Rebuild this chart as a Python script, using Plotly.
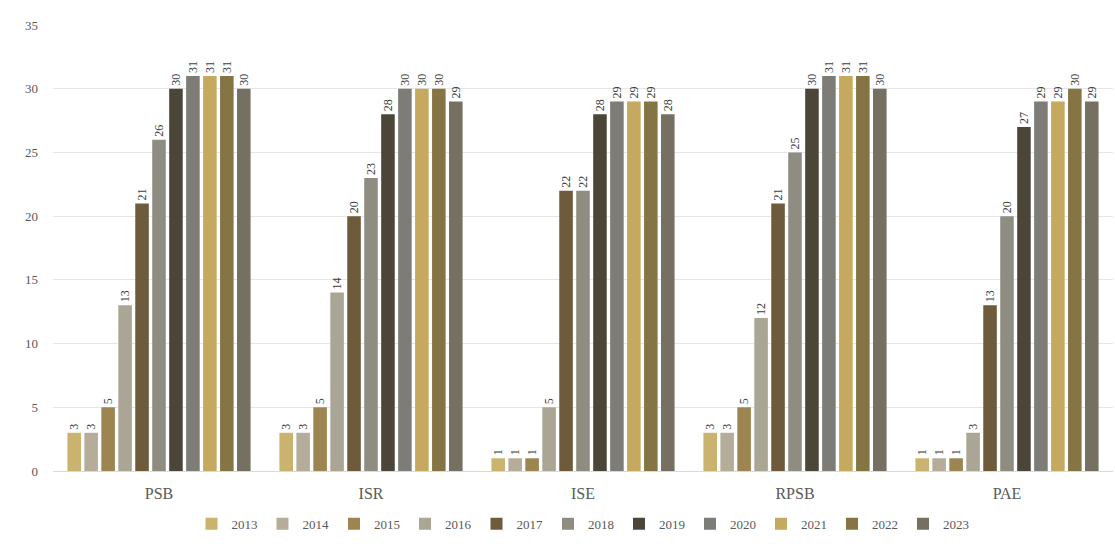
import plotly.graph_objects as go

categories = ["PSB", "ISR", "ISE", "RPSB", "PAE"]
years = ["2013", "2014", "2015", "2016", "2017", "2018", "2019", "2020", "2021", "2022", "2023"]

v2013 = [3, 3, 1, 3, 1]
v2014 = [3, 3, 1, 3, 1]
v2015 = [5, 5, 1, 5, 1]
v2016 = [13, 14, 5, 12, 3]
v2017 = [21, 20, 22, 21, 13]
v2018 = [26, 23, 22, 25, 20]
v2019 = [30, 28, 28, 30, 27]
v2020 = [31, 30, 29, 31, 29]
v2021 = [31, 30, 29, 31, 29]
v2022 = [31, 30, 29, 31, 30]
v2023 = [30, 29, 28, 30, 29]

series = [v2013, v2014, v2015, v2016, v2017, v2018, v2019, v2020, v2021, v2022, v2023]
colors = ["#c9b36e", "#b5ad9a", "#9c8550", "#aba596", "#6d5b3b", "#8f8c82",
          "#4b4638", "#7d7c76", "#c5a95f", "#857444", "#757062"]

font_family = "Liberation Serif, DejaVu Serif, serif"

fig = go.Figure()
for name, vals, col in zip(years, series, colors):
    fig.add_trace(go.Bar(
        name=name, x=categories, y=vals,
        marker=dict(color=col, line=dict(width=0)),
        text=[str(v) for v in vals],
        textposition="outside", textangle=-90,
        textfont=dict(family=font_family, size=12, color="#404040"),
        cliponaxis=False,
    ))

fig.update_layout(
    width=1115, height=547,
    margin=dict(l=53, r=2, t=25, b=76),
    paper_bgcolor="white", plot_bgcolor="white",
    barmode="group", bargap=0.12, bargroupgap=0.2,
    font=dict(family=font_family, color="#595959"),
    showlegend=True,
    legend=dict(orientation="h", x=0.5, xanchor="center", y=-0.085, yanchor="top",
                font=dict(size=13, color="#595959"), itemwidth=30,
                tracegroupgap=0, traceorder="normal"),
)
fig.update_xaxes(showline=True, linecolor="#d9d9d9", tickfont=dict(size=16, color="#595959"),
                 ticks="", ticklabelstandoff=8)
fig.update_yaxes(range=[0, 35], dtick=5, showgrid=True, gridcolor="#e6e6e6",
                 zeroline=False, tickfont=dict(size=13, color="#595959"), ticks="",
                 ticklabelstandoff=14)

fig.write_html("out.html")
